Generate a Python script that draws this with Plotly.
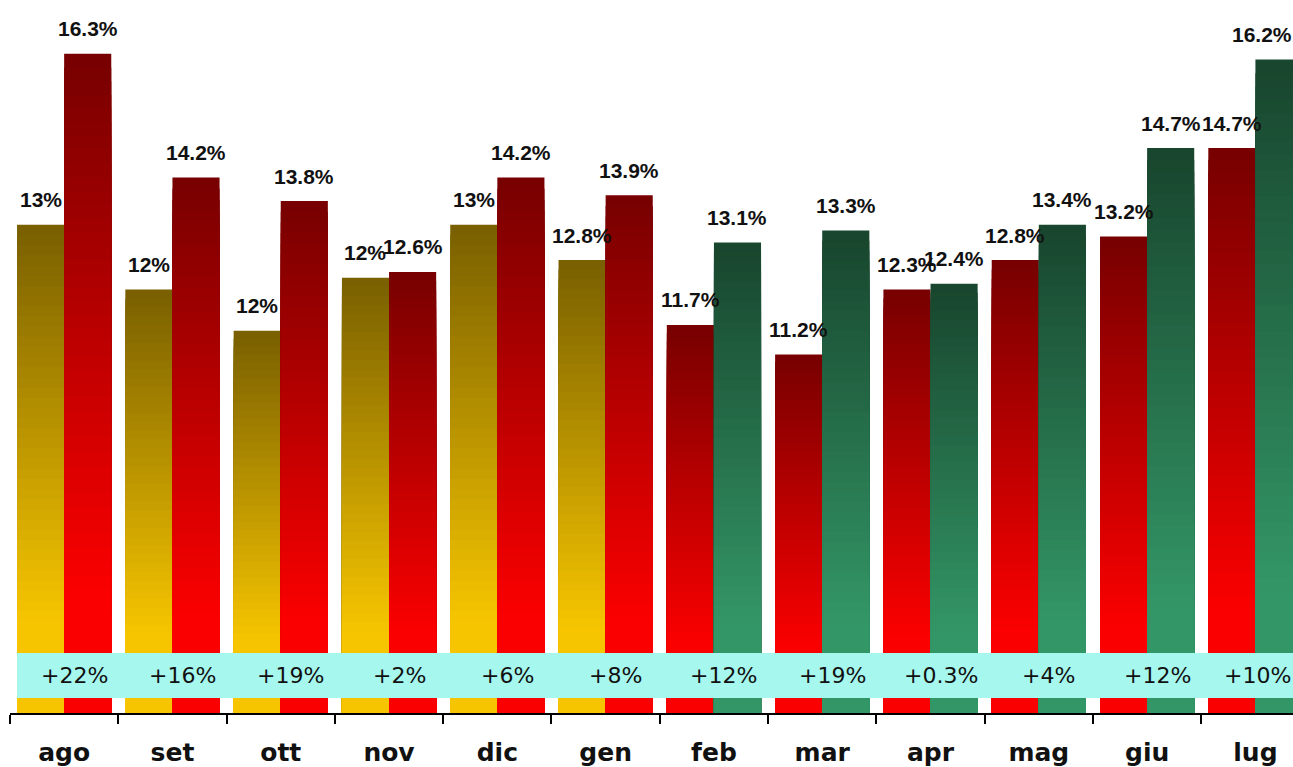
import plotly.graph_objects as go

# ---- data ----
months = ["ago", "set", "ott", "nov", "dic", "gen", "feb", "mar", "apr", "mag", "giu", "lug"]
prev_values = [13.4, 12.3, 11.6, 12.5, 13.4, 12.8, 11.7, 11.2, 12.3, 12.8, 13.2, 14.7]
curr_values = [16.3, 14.2, 13.8, 12.6, 14.2, 13.9, 13.1, 13.3, 12.4, 13.4, 14.7, 16.2]
prev_labels = ["13%", "12%", "12%", "12%", "13%", "12.8%", "11.7%", "11.2%", "12.3%", "12.8%", "13.2%", "14.7%"]
curr_labels = ["16.3%", "14.2%", "13.8%", "12.6%", "14.2%", "13.9%", "13.1%", "13.3%", "12.4%", "13.4%", "14.7%", "16.2%"]
change_labels = ["+22%", "+16%", "+19%", "+2%", "+6%", "+8%", "+12%", "+19%", "+0.3%", "+4%", "+12%", "+10%"]

# ---- style ----
Y_MIN, Y_MAX = 5.121, 17.21
PALETTES = {
    "gold": ((122, 96, 0), (246, 197, 0)),
    "red": ((120, 0, 0), (250, 0, 0)),
    "green": ((24, 70, 46), (51, 150, 102)),
}
prev_palette = ["gold"] * 6 + ["red"] * 6
curr_palette = ["red"] * 6 + ["green"] * 6
BAR_W = 0.435
N_LAYERS = 48


def lerp(c0, c1, f):
    return "rgb(%d,%d,%d)" % tuple(round(a + (b - a) * f) for a, b in zip(c0, c1))


fig = go.Figure()


def add_gradient_bars(values, palettes, offset):
    for k in range(N_LAYERS):
        t = k / N_LAYERS
        f = min(t / 0.8, 1.0)
        heights = [(v - Y_MIN) * (1 - t) for v in values]
        colors = [lerp(*PALETTES[p], f) for p in palettes]
        fig.add_trace(go.Bar(
            x=months, y=heights, base=[Y_MIN] * len(values),
            width=BAR_W, offset=offset,
            marker=dict(color=colors, line=dict(width=0)),
            showlegend=False, hoverinfo="skip",
        ))


add_gradient_bars(prev_values, prev_palette, -BAR_W)
add_gradient_bars(curr_values, curr_palette, 0)

last = len(months) - 1
annotations = []
label_font = dict(family="Liberation Sans", size=21, color="#111111", weight="bold")
for i, (v, lab) in enumerate(zip(prev_values, prev_labels)):
    annotations.append(dict(x=i - BAR_W / 2, y=v, xref="x", yref="y", text=lab,
                            showarrow=False, yanchor="middle", yshift=25, font=label_font))
for i, (v, lab) in enumerate(zip(curr_values, curr_labels)):
    annotations.append(dict(x=i + BAR_W / 2, y=v, xref="x", yref="y", text=lab,
                            showarrow=False, yanchor="middle", yshift=25,
                            xshift=-17 if i == last else 0, font=label_font))

band_y0, band_y1 = 15 / 713, 60 / 713
for i, lab in enumerate(change_labels):
    annotations.append(dict(x=i, y=(band_y0 + band_y1) / 2, xref="x", yref="paper", text=lab,
                            showarrow=False, yanchor="middle", xshift=2 if i == last else 10,
                            font=dict(family="DejaVu Sans", size=22, color="#111111")))

fig.update_layout(
    width=1293, height=767,
    margin=dict(l=10, r=0, t=0, b=54),
    paper_bgcolor="white", plot_bgcolor="white",
    barmode="overlay",
    showlegend=False,
    annotations=annotations,
    shapes=[dict(type="rect", xref="x", yref="paper", x0=-BAR_W, x1=12,
                 y0=band_y0, y1=band_y1, fillcolor="#a6f8ef", line=dict(width=0), layer="above")],
    xaxis=dict(
        type="category", categoryorder="array", categoryarray=months,
        range=[-0.5, 11.347],
        showline=True, linecolor="black", linewidth=2,
        ticks="outside", tickson="boundaries", ticklen=9, tickwidth=2, tickcolor="black",
        showgrid=False, zeroline=False,
        tickfont=dict(family="DejaVu Sans", size=25, color="#111111", weight="bold"),
        ticklabelstandoff=16,
    ),
    yaxis=dict(range=[Y_MIN, Y_MAX], visible=False, showgrid=False, zeroline=False),
)

fig.write_html("out.html", config={"displayModeBar": False},
               post_script="document.body.style.margin='0';document.body.style.overflow='hidden';")
